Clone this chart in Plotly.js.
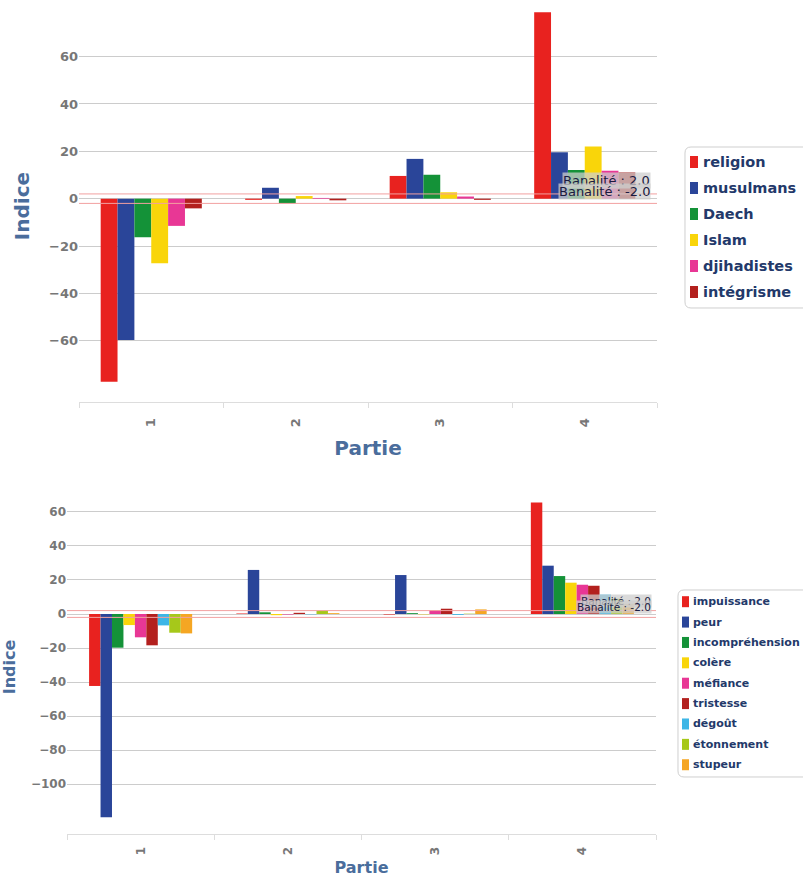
<!DOCTYPE html>
<html>
<head>
<meta charset="utf-8">
<script src="https://cdn.plot.ly/plotly-3.0.1.min.js"></script>
<style>
html,body{margin:0;padding:0;background:#fff;}
#top{width:803px;height:460px;}
#bottom{width:803px;height:417px;}
</style>
</head>
<body>
<div id="top"></div>
<div id="bottom"></div>
<script>
// ---- data ----
const parties = ['1', '2', '3', '4'];

const topNames = ['religion', 'musulmans', 'Daech', 'Islam', 'djihadistes', 'intégrisme'];
const religion    = [-77.3, -0.5,  9.6, 78.7];
const musulmans   = [-59.7,  4.6, 16.8, 19.6];
const daech       = [-16.3, -2.0, 10.1, 12.1];
const islam       = [-27.3,  1.1,  2.7, 22.0];
const djihadistes = [-11.5,  0.3,  0.9, 11.8];
const integrisme  = [ -4.1, -0.7, -0.5, 11.1];
const topValues = [religion, musulmans, daech, islam, djihadistes, integrisme];

const bottomNames = ['impuissance', 'peur', 'incompréhension', 'colère', 'méfiance', 'tristesse', 'dégoût', 'étonnement', 'stupeur'];
const impuissance     = [ -42.3,  0.3, -0.3, 65.6];
const peur            = [-119.5, 25.9, 22.9, 28.4];
const incomprehension = [ -19.8,  1.0,  0.5, 22.3];
const colere          = [  -6.5, -0.7, -0.2, 18.4];
const mefiance        = [ -13.7, -0.3,  2.2, 17.2];
const tristesse       = [ -18.4,  0.7,  3.1, 16.6];
const degout          = [  -6.7, -0.2, -0.5, 11.4];
const etonnement      = [ -11.0,  2.0,  0.2,  9.0];
const stupeur         = [ -11.4,  0.5,  2.7,  6.0];
const bottomValues = [impuissance, peur, incomprehension, colere, mefiance, tristesse, degout, etonnement, stupeur];

const topTicks = [60, 40, 20, 0, -20, -40, -60];
const bottomTicks = [60, 40, 20, 0, -20, -40, -60, -80, -100];
const banalite = [2, -2];

// ---- styles ----
const topColors = ['#e8221f', '#2a4599', '#149238', '#f9d50a', '#e83795', '#b3201e'];
const bottomColors = ['#e8221f', '#2a4599', '#149238', '#f9d50a', '#e83795', '#b3201e', '#3db6e6', '#a6c81a', '#f5a623'];
const FONT = 'DejaVu Sans';
const titleColor = '#4a6d9c';
const legendColor = '#23396a';

function makeTraces(names, values, colors) {
  return names.map((n, i) => ({
    type: 'bar', name: n, x: parties, y: values[i],
    marker: {color: colors[i], line: {width: 0}},
    hoverinfo: 'none', showlegend: false
  }));
}

function makeLayout(o, names, colors) {
  const W = 803, H = o.height;
  const pw = W - o.margin.l - o.margin.r;
  const ph = H - o.margin.t - o.margin.b;
  const px = v => (v - o.margin.l) / pw;          // pixel x -> paper
  const py = v => 1 - (v - o.margin.t) / ph;      // pixel y -> paper
  const L = o.leg;
  // legend box (rounded rect)
  const r = 6, x0 = L.left, x1 = L.right, y0 = L.top, y1 = L.bottom;
  const boxPath = [
    'M', px(x0 + r), py(y0), 'L', px(x1 - r), py(y0),
    'Q', px(x1), py(y0), px(x1), py(y0 + r),
    'L', px(x1), py(y1 - r),
    'Q', px(x1), py(y1), px(x1 - r), py(y1),
    'L', px(x0 + r), py(y1),
    'Q', px(x0), py(y1), px(x0), py(y1 - r),
    'L', px(x0), py(y0 + r),
    'Q', px(x0), py(y0), px(x0 + r), py(y0), 'Z'
  ].map(t => typeof t === 'number' ? t.toFixed(5) : t).join(' ').replace(/ (?=[\d-])/g, ' ');
  const shapes = banalite.map(v => ({
    type: 'line', xref: 'paper', yref: 'y', x0: 0, x1: 1, y0: v, y1: v,
    line: {color: '#f2a0a0', width: 1}
  }));
  shapes.push({type: 'path', xref: 'paper', yref: 'paper', path: fixPath(boxPath),
    line: {color: '#cfcfcf', width: 1}, fillcolor: '#ffffff', layer: 'above'});
  const annotations = banalite.map((v, i) => ({
    xref: 'paper', yref: 'y', x: o.labX, y: v, xanchor: 'right', yanchor: 'middle',
    yshift: o.labShift[i], showarrow: false,
    text: 'Banalité : ' + v.toFixed(1),
    font: {family: FONT, size: o.labSize, color: '#1a1a40'},
    bgcolor: 'rgba(205,205,205,0.75)', borderpad: 0
  }));
  names.forEach((n, i) => {
    const cy = L.first + i * L.step;
    shapes.push({type: 'rect', xref: 'paper', yref: 'paper',
      x0: px(L.swX0), x1: px(L.swX1), y0: py(cy - L.swH / 2), y1: py(cy + L.swH / 2),
      fillcolor: colors[i], line: {width: 0}, layer: 'above'});
    annotations.push({xref: 'paper', yref: 'paper', x: px(L.textX), y: py(cy),
      xanchor: 'left', yanchor: 'middle', showarrow: false, text: n,
      font: {family: FONT, size: L.size, color: legendColor, weight: 'bold'}});
  });
  return {
    width: W, height: H,
    margin: o.margin,
    paper_bgcolor: '#fff', plot_bgcolor: '#fff',
    barmode: 'group', bargap: 0.3, bargroupgap: 0,
    showlegend: false,
    xaxis: {
      type: 'category', tickangle: -90,
      tickfont: {family: FONT, size: o.tickSize, color: '#777', weight: 'bold'},
      ticklabelstandoff: o.xLabStandoff,
      showline: true, linecolor: '#dddddd', linewidth: 1,
      ticks: 'outside', tickson: 'boundaries', ticklen: 5, tickcolor: '#dddddd',
      showgrid: false, zeroline: false,
      title: {text: 'Partie', font: {family: FONT, size: o.titleSize, color: titleColor, weight: 'bold'}, standoff: o.xStandoff},
      automargin: false
    },
    yaxis: {
      range: o.yRange, tickvals: o.ticks, ticktext: o.ticks.map(v => v < 0 ? '\u2212' + Math.abs(v) : String(v)),
      tickfont: {family: FONT, size: o.tickSize, color: '#777', weight: 'bold'},
      showgrid: true, gridcolor: '#cccccc', gridwidth: 1,
      zeroline: false, showline: false, ticks: '',
      title: {text: 'Indice', font: {family: FONT, size: o.titleSize, color: titleColor, weight: 'bold'}, standoff: o.yStandoff},
      automargin: false
    },
    shapes: shapes,
    annotations: annotations
  };
}
function fixPath(p) { return p.replace(/\s+/g, ' ').replace(/([MLQZ]) /g, '$1').replace(/ ([MLQZ])/g, '$1'); }

Plotly.newPlot('top', makeTraces(topNames, topValues, topColors), makeLayout({
  height: 460,
  margin: {l: 79, r: 146, t: 10, b: 58},
  yRange: [-85.9, 79.7], ticks: topTicks,
  tickSize: 13, titleSize: 20, xStandoff: 14, yStandoff: 14, xLabStandoff: 10,
  labShift: [13, 11.7], labSize: 13, labX: 0.99,
  leg: {left: 685, right: 812, top: 147, bottom: 308, first: 162, step: 26,
        swX0: 690, swX1: 698, swH: 12, textX: 701, size: 14.5}
}, topNames, topColors), {displayModeBar: false, staticPlot: true});

Plotly.newPlot('bottom', makeTraces(bottomNames, bottomValues, bottomColors), makeLayout({
  height: 417,
  margin: {l: 67, r: 147, t: 40, b: 43},
  yRange: [-129.3, 67], ticks: bottomTicks,
  tickSize: 12, titleSize: 16, xStandoff: 10, yStandoff: 12, xLabStandoff: 7,
  labShift: [10, 10.7], labSize: 10.5, labX: 0.993,
  leg: {left: 678, right: 812, top: 130, bottom: 317, first: 141.7, step: 20.38,
        swX0: 682, swX1: 689, swH: 11, textX: 691, size: 11}
}, bottomNames, bottomColors), {displayModeBar: false, staticPlot: true});
</script>
</body>
</html>
